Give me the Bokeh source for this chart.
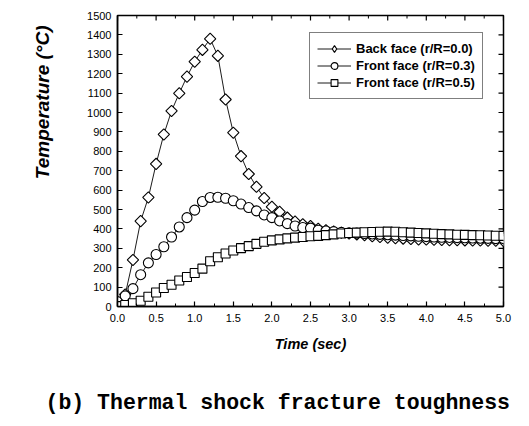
import math
from bokeh.plotting import figure
from bokeh.layouts import column
from bokeh.models import (FixedTicker, Legend, LegendItem, Range1d, Title,
                          PrintfTickFormatter)
from bokeh.embed import file_html
from bokeh.resources import INLINE

# ---------------- data ----------------
TIME = [round(0.1 * i, 1) for i in range(51)]

BACK_00 = [20, 62, 240, 440, 562, 735, 887, 1008, 1099, 1185,
           1262, 1323, 1380, 1292, 1067, 896, 775, 683, 617, 559,
           514, 488, 458, 438, 424, 415, 401, 393, 386, 380,
           376, 372, 368, 362, 358, 355, 352, 350, 348, 346,
           345, 344, 343, 342, 342, 341, 340, 340, 339, 339, 338]

FRONT_03 = [25, 55, 92, 164, 225, 268, 308, 358, 410, 458,
            497, 541, 562, 563, 558, 545, 528, 510, 493, 472,
            458, 441, 427, 415, 407, 404, 393, 389, 386, 382,
            380, 378, 376, 374, 372, 370, 368, 366, 364, 362,
            360, 358, 357, 356, 355, 354, 353, 352, 351, 350, 350]

FRONT_05 = [2, 8, 17, 30, 50, 72, 95, 112, 134, 152,
            173, 195, 233, 254, 273, 289, 301, 311, 323, 334,
            341, 346, 351, 355, 358, 362, 364, 368, 372, 376,
            379, 381, 383, 384, 385, 386, 385, 383, 381, 379,
            377, 375, 373, 372, 370, 369, 368, 367, 366, 365, 364]

SERIES_LABELS = ["Back face (r/R=0.0)", "Front face (r/R=0.3)", "Front face (r/R=0.5)"]
X_TICKS = [0.0, 0.5, 1.0, 1.5, 2.0, 2.5, 3.0, 3.5, 4.0, 4.5, 5.0]
X_MINOR = [0.25, 0.75, 1.25, 1.75, 2.25, 2.75, 3.25, 3.75, 4.25, 4.75]
Y_TICKS = list(range(0, 1501, 100))
X_TITLE = "Time (sec)"
Y_TITLE = "Temperature (°C)"
CAPTION = "(b) Thermal shock fracture toughness"

X_MIN, X_MAX = 0, 5
Y_MIN, Y_MAX = 0, 1500

W = 523          # page width used by both parts
H_TOP = 388      # chart part
H_CAP = 34       # caption part
BORDER_L, BORDER_R = 117, 20

# ---------------- chart ----------------
p = figure(frame_width=386, frame_height=291,
           min_border_left=BORDER_L, min_border_right=BORDER_R,
           min_border_top=15, min_border_bottom=H_TOP - 15 - 291,
           x_range=Range1d(X_MIN, X_MAX), y_range=Range1d(Y_MIN, Y_MAX),
           output_backend="svg", toolbar_location=None,
           background_fill_color="white", border_fill_color="white")
# a range far from the visible one: renderers mapped through it only feed the legend
p.extra_x_ranges = {"legend_only": Range1d(X_MAX * 100, X_MAX * 200)}

p.xgrid.visible = False
p.ygrid.visible = False
p.outline_line_color = "black"
p.outline_line_width = 1.5

tick_font = "Liberation Sans"

def style_axis(ax, ticks, minor):
    ax.ticker = FixedTicker(ticks=ticks, minor_ticks=minor)
    ax.axis_line_color = "black"
    ax.axis_line_width = 1.5
    ax.major_tick_in = 5
    ax.major_tick_out = 0
    ax.minor_tick_in = 3
    ax.minor_tick_out = 0
    ax.major_tick_line_color = "black"
    ax.minor_tick_line_color = "black"
    ax.major_tick_line_width = 1.2
    ax.minor_tick_line_width = 1
    ax.major_label_text_font = tick_font
    ax.major_label_text_color = "black"
    ax.major_label_text_font_size = "11px"

xa = p.xaxis[0]
style_axis(xa, X_TICKS, X_MINOR)
xa.formatter = PrintfTickFormatter(format="%.1f")
xa.major_label_standoff = 7
xa.axis_label = X_TITLE
xa.axis_label_text_font = "Liberation Sans"
xa.axis_label_text_font_style = "bold italic"
xa.axis_label_text_font_size = "14.5px"
xa.axis_label_standoff = 11
xa.axis_label_text_color = "black"

ya = p.yaxis[0]
style_axis(ya, Y_TICKS, [])
ya.major_label_standoff = 6

# inward ticks on the top and right edges of the box (half of each dash is clipped)
n_x, n_xm, n_y = len(X_TICKS), len(X_MINOR), len(Y_TICKS)
p.scatter(X_TICKS, [Y_MAX] * n_x, marker="dash", angle=math.pi / 2, size=10,
          line_color="black", line_width=1.2)
p.scatter(X_MINOR, [Y_MAX] * n_xm, marker="dash", angle=math.pi / 2, size=6,
          line_color="black", line_width=1)
p.scatter([X_MAX] * n_y, Y_TICKS, marker="dash", size=10,
          line_color="black", line_width=1.2)

# ---------------- series ----------------
specs = [(BACK_00, "square", 8, math.pi / 4),
         (FRONT_03, "circle", 10, 0.0),
         (FRONT_05, "square", 9, 0.0)]
legend_items = []
for (ys, marker, size, ang), lab in zip(specs, SERIES_LABELS):
    ln = p.line(TIME, ys, line_color="black", line_width=0.9)
    sc = p.scatter(TIME, ys, marker=marker, size=size, angle=ang,
                   fill_color="white", line_color="black", line_width=1.1)
    if ang != 0.0:
        # legend sample for the rotated squares (its points fall outside the frame)
        sc = p.scatter(TIME, ys, marker="diamond", size=size + 3,
                       fill_color="white", line_color="black", line_width=1.1,
                       x_range_name="legend_only")
    legend_items.append(LegendItem(label=lab, renderers=[ln, sc]))

legend = Legend(items=legend_items, location=(192, 207), margin=0)
legend.label_text_font = "Liberation Sans"
legend.label_text_font_style = "bold"
legend.label_text_font_size = "13px"
legend.label_text_color = "black"
legend.glyph_width = 34
legend.glyph_height = 17
legend.label_height = 17
legend.spacing = 0
legend.padding = 7
legend.label_standoff = 5
legend.border_line_color = "black"
legend.border_line_width = 1
legend.background_fill_color = "white"
legend.background_fill_alpha = 1
p.add_layout(legend, "center")

# y-axis title, placed above centre like in the source
p.add_layout(Title(text=Y_TITLE, align="right", offset=10, vertical_align="top",
                   standoff=60, text_font="Liberation Sans",
                   text_font_style="bold italic", text_font_size="19px",
                   text_color="black"), "left")

# ---------------- caption strip ----------------
c = figure(width=W, height=H_CAP, x_range=Range1d(0, 1), y_range=Range1d(0, 1),
           min_border_left=BORDER_L, min_border_right=BORDER_R,
           min_border_top=0, min_border_bottom=0,
           x_axis_location=None, y_axis_location=None,
           output_backend="svg", toolbar_location=None,
           background_fill_color="white", border_fill_color="white")
c.xgrid.visible = False
c.ygrid.visible = False
c.outline_line_color = None
c.add_layout(Title(text=CAPTION, align="left", offset=45 - BORDER_L,
                   vertical_align="top", standoff=4,
                   text_font="Liberation Mono", text_font_style="bold",
                   text_font_size="21.5px", text_color="black"), "above")

layout = column(p, c, spacing=0)
open("out.html", "w").write(file_html(layout, INLINE))
